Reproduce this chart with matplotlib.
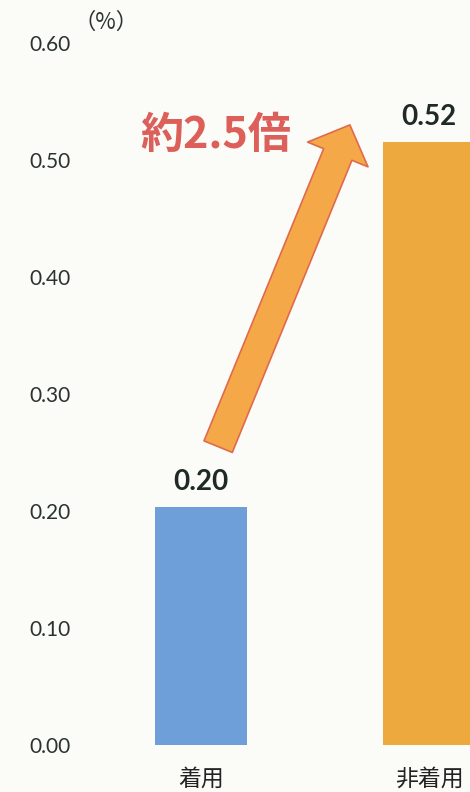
import matplotlib
matplotlib.use("Agg")
import matplotlib.pyplot as plt
from matplotlib.patches import FancyArrowPatch

plt.rcParams['font.family'] = ['Lato', 'Noto Sans CJK JP', 'DejaVu Sans']

categories = ['着用', '非着用']
values = [0.203, 0.515]
value_labels = ['0.20', '0.52']
yticks = [0.0, 0.1, 0.2, 0.3, 0.4, 0.5, 0.6]
ytick_labels = ['0.00', '0.10', '0.20', '0.30', '0.40', '0.50', '0.60']
bar_colors = ['#6F9FD8', '#EDA93E']
bg = '#FBFBF7'

fig = plt.figure(figsize=(4.70, 7.92), dpi=100, facecolor=bg)
ax = fig.add_axes([75/470, 47/792, 1 - 75/470, 702/792])
ax.set_facecolor(bg)

x = list(range(len(categories)))
ax.bar(x, values, width=0.4, color=bar_colors)
ax.set_xlim(-0.553, 1.18)
ax.set_ylim(0, 0.6)

ax.set_yticks(yticks)
ax.set_yticklabels(ytick_labels, fontsize=15, color='#2B3330')
ax.set_xticks(x)
ax.set_xticklabels(categories, fontsize=16.5, color='#222222',
                   family=['Noto Sans CJK JP', 'DejaVu Sans'])
ax.tick_params(axis='y', length=0, pad=3)
ax.tick_params(axis='x', length=0, pad=16)
for s in ax.spines.values():
    s.set_visible(False)

for xi, v, lab in zip(x, values, value_labels):
    ax.text(xi, v + 0.011, lab, ha='center', va='bottom', fontsize=20,
            fontweight='bold', color='#1F2A28')

ax.text(-0.56, 0.6 + 0.018, '（%）', transform=ax.transData, ha='left',
        va='center', fontsize=16, color='#2B3330',
        family=['Noto Sans CJK JP', 'DejaVu Sans'], clip_on=False)

arrow = FancyArrowPatch((0.075, 0.255), (0.653, 0.530),
                        arrowstyle='simple,head_length=23,head_width=47,tail_width=22',
                        mutation_scale=1, shrinkA=0, shrinkB=0,
                        facecolor='#F4A847', edgecolor='#E06A4E', linewidth=1.2,
                        zorder=5, clip_on=False)
ax.add_patch(arrow)

ax.text(0.066, 0.521, '約2.5倍', ha='center', va='center', fontsize=31,
        fontweight='bold', color='#DC5F5A',
        family=['Noto Sans CJK JP', 'DejaVu Sans'])

fig.savefig('out.png', dpi=100, facecolor=bg)
